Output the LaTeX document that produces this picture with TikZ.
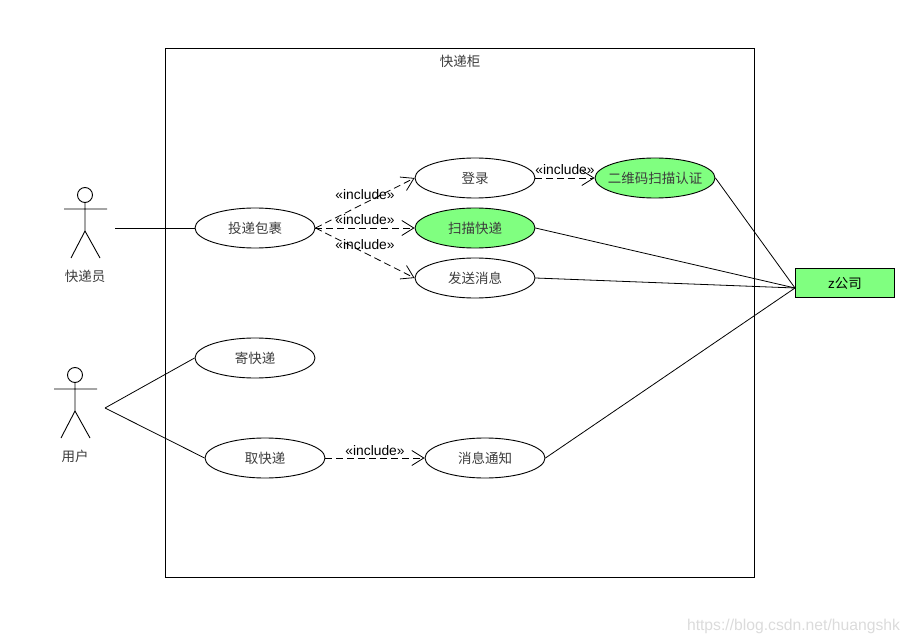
\documentclass[tikz,border=0pt]{standalone}
\usepackage{xcolor}
\usepackage{fontspec}
\setmainfont{Liberation Sans}
\newfontfamily\cjkfont{Noto Sans CJK SC}
\usetikzlibrary{shapes.geometric, arrows.meta, positioning}
\definecolor{casegreen}{RGB}{128, 255, 128}
\definecolor{labeltext}{RGB}{60, 60, 60}
\tikzset{
    usecase/.style={draw=black, line width=0.9pt, ellipse, minimum width=120pt, minimum height=40pt, inner sep=0pt,
          font=\cjkfont\fontsize{13.5}{16}\selectfont, text=labeltext},
    greencase/.style={usecase, fill=casegreen},
    extbox/.style={draw=black, line width=0.9pt, fill=casegreen, minimum width=99.5pt, minimum height=29.5pt, inner sep=0pt,
          font=\fontsize{13.5}{16}\selectfont},
    caption/.style={font=\cjkfont\fontsize{13.5}{16}\selectfont, text=labeltext, inner sep=0pt},
    assoc/.style={draw=black, line width=0.8pt},
    incl/.style={draw=black, line width=0.8pt, dash pattern=on 7pt off 4pt, -{Straight Barb[length=12pt,width=15pt]}},
    incllabel/.style={font=\fontsize{13.8}{16}\selectfont, inner sep=0pt},
    stickman/.pic={
        \draw[line width=0.9pt] (0,0) circle (7.5);
        \draw[line width=0.9pt] (0,7.5) -- (0,36) (-21,14) -- (22,14) (-14,63) -- (0,36) -- (15,63);
    }
}
\begin{document}
\begin{tikzpicture}[x=1pt, y=-1pt]
    \useasboundingbox (0,0) rectangle (910,644);

    \node[draw=black, line width=0.9pt, minimum width=589pt, minimum height=529pt, inner sep=0pt] (system) at (459.5,312.5) {};
    \node[caption] (systitle) at (460,61) {快递柜};

    \pic at (85,195) {stickman};
    \node[caption] (courier) at (85,276) {快递员};
    \pic at (75,375) {stickman};
    \node[caption] (customer) at (75,456) {用户};
    \coordinate (courierend) at (115,228);
    \coordinate (customerend) at (105,408);

    \node[usecase] (deliver) at (255,228) {投递包裹};
    \node[usecase] (login) at (475,178) {登录};
    \node[greencase] (scan) at (475,228) {扫描快递};
    \node[usecase] (send) at (475,278) {发送消息};
    \node[greencase] (qrcode) at (655,178) {\makebox[0pt]{二维码扫描认证}};
    \node[usecase] (post) at (255,358) {寄快递};
    \node[usecase] (pickup) at (265,458) {取快递};
    \node[usecase] (notify) at (485,458) {消息通知};
    \node[extbox] (company) at (845,283) {z{\cjkfont 公司}};
    \coordinate (companyin) at (795,288);

    \draw[assoc] (courierend) -- (deliver.west);
    \draw[assoc] (customerend) -- (post.west);
    \draw[assoc] (customerend) -- (pickup.west);
    \draw[assoc] (qrcode.east) -- (companyin);
    \draw[assoc] (scan.east) -- (companyin);
    \draw[assoc] (send.east) -- (companyin);
    \draw[assoc] (notify.east) -- (companyin);

    \draw[incl] (deliver.east) -- (login.west);
    \draw[incl] (deliver.east) -- (scan.west);
    \draw[incl] (deliver.east) -- (send.west);
    \draw[incl] (login.east) -- (qrcode.west);
    \draw[incl] (pickup.east) -- (notify.west);

    \node[incllabel] (incla) at (365,194.5) {«include»};
    \node[incllabel] (inclb) at (365,219.5) {«include»};
    \node[incllabel] (inclc) at (365,244.5) {«include»};
    \node[incllabel] (incld) at (565,170) {«include»};
    \node[incllabel] (incle) at (375,450.5) {«include»};

    \node[font=\fontsize{15.7}{18}\selectfont, text=black!14, inner sep=0pt] (watermark) at (793.5,626) {https://blog.csdn.net/huangshk};
\end{tikzpicture}
\end{document}
